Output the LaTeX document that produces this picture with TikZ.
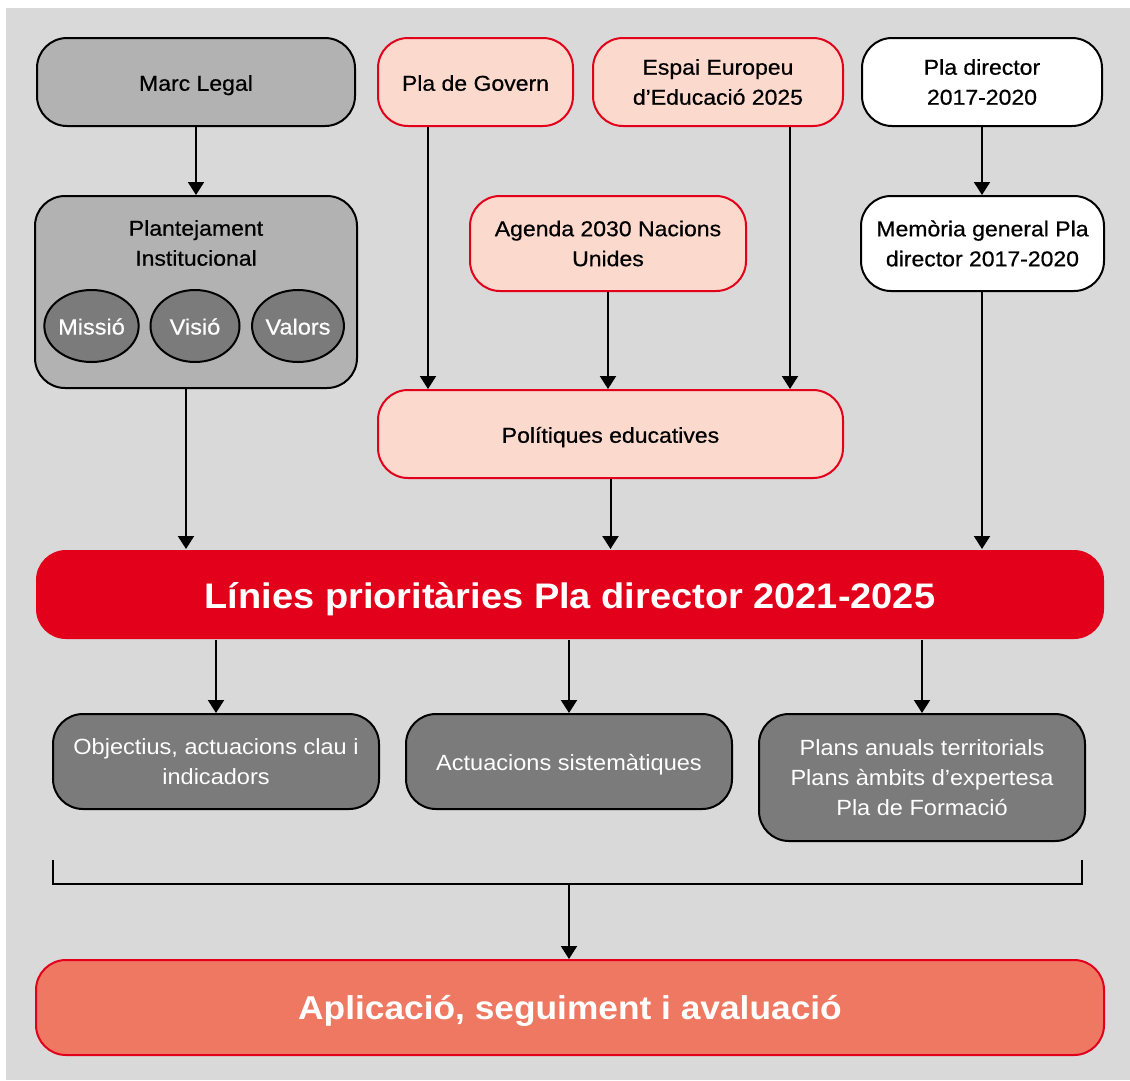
\documentclass[tikz,border=0pt]{standalone}
\usepackage{fontspec}
\setmainfont{Liberation Sans}[FakeStretch=1.07]
\newfontfamily\medfont{Liberation Sans}[FakeStretch=1.07,FakeBold=0.6]
\usetikzlibrary{arrows.meta,shapes.geometric}
\definecolor{bggray}{HTML}{D9D9D9}
\definecolor{midgray}{HTML}{B2B2B2}
\definecolor{darkgray}{HTML}{7B7B7B}
\definecolor{pinkfill}{HTML}{FBD9CC}
\definecolor{redc}{HTML}{E2001A}
\definecolor{salmon}{HTML}{EF7862}
\begin{document}
\begin{tikzpicture}[x=1pt,y=-1pt,
  base/.style={rectangle,rounded corners=30pt,line width=2pt,inner sep=0pt,align=center,
    font=\medfont\fontsize{21.5}{30}\selectfont},
  oneline/.style={text height=#1,text depth=0pt},
  graybox/.style={base,draw=black,fill=midgray},
  pinkbox/.style={base,draw=redc,fill=pinkfill},
  whitebox/.style={base,draw=black,fill=white},
  darkbox/.style={base,draw=black,fill=darkgray,text=white,font=\fontsize{22}{30}\selectfont},
  oval/.style={ellipse,draw=black,line width=2pt,fill=darkgray,text=white,inner sep=0pt,
    minimum width=89pt,minimum height=72pt,font=\medfont\fontsize{22}{24}\selectfont},
  arr/.style={line width=2pt,-{Triangle[width=16pt,length=13pt]}},
  lin/.style={line width=2pt}
]
\useasboundingbox (0,0) rectangle (1130,1080);
\fill[white] (0,0) rectangle (1130,1080);
\fill[bggray] (6,8) rectangle (1130,1080);

% top row
\node[graybox,oneline=17.5pt,minimum width=318pt,minimum height=88pt] (marc) at (196,82) {Marc Legal};
\node[pinkbox,oneline=17.5pt,minimum width=195pt,minimum height=88pt] (govern) at (475.5,82) {Pla de Govern};
\node[pinkbox,minimum width=250pt,minimum height=88pt] (espai) at (718,82) {Espai Europeu\\d’Educació 2025};
\node[whitebox,minimum width=240pt,minimum height=88pt] (pladir) at (982,82) {Pla director\\2017-2020};

% second row
\node[graybox,minimum width=322pt,minimum height=192pt] (plant) at (196,292) {};
\node[font=\medfont\fontsize{21.5}{30}\selectfont,align=center] (plantT) at (196,243) {Plantejament\\Institucional};
\node[oval,oneline=17pt] (missio) at (91.5,326) {Missió};
\node[oval,oneline=17pt] (visio) at (195,326) {Visió};
\node[oval,oneline=17pt] (valors) at (298,326) {Valors};
\node[pinkbox,minimum width=276pt,minimum height=95pt] (agenda) at (608,243.5) {Agenda 2030 Nacions\\Unides};
\node[whitebox,minimum width=243pt,minimum height=95pt] (memoria) at (982.5,243.5) {Memòria general Pla\\director 2017-2020};

% politiques
\node[pinkbox,oneline=17.5pt,minimum width=465pt,minimum height=88pt] (polit) at (610.5,434) {Polítiques educatives};

% linies
\node[base,oneline=28.4pt,fill=redc,draw=none,text=white,minimum width=1068pt,minimum height=89pt,
  font=\fontsize{35.5}{40}\selectfont\bfseries] (linies) at (570,594.5) {Línies prioritàries Pla director 2021-2025};

% lower row
\node[darkbox,minimum width=326pt,minimum height=95pt] (obj) at (216,761.5) {Objectius, actuacions clau i\\indicadors};
\node[darkbox,oneline=18pt,minimum width=326pt,minimum height=95pt] (act) at (569,761.5) {Actuacions sistemàtiques};
\node[darkbox,minimum width=326pt,minimum height=127pt] (plans) at (922,777.5) {Plans anuals territorials\\Plans àmbits d’expertesa\\Pla de Formació};

% aplicacio
\node[base,oneline=24.6pt,fill=salmon,draw=redc,text=white,minimum width=1068pt,minimum height=95pt,
  font=\fontsize{33}{38}\selectfont\bfseries] (aplic) at (570,1007.5) {Aplicació, seguiment i avaluació};

% arrows
\draw[arr] (marc.south) -- (plant.north);
\draw[arr] (plant.south -| 186,0) -- (linies.north -| 186,0);
\draw[arr] (govern.south -| 428,0) -- (polit.north -| 428,0);
\draw[arr] (espai.south -| 790,0) -- (polit.north -| 790,0);
\draw[arr] (agenda.south) -- (polit.north -| agenda.south);
\draw[arr] (polit.south) -- (linies.north -| polit.south);
\draw[arr] (pladir.south) -- (memoria.north -| pladir.south);
\draw[arr] (memoria.south -| pladir.south) -- (linies.north -| pladir.south);
\draw[arr] (linies.south -| obj.north) -- (obj.north);
\draw[arr] (linies.south -| act.north) -- (act.north);
\draw[arr] (linies.south -| plans.north) -- (plans.north);

% bracket
\coordinate (bl) at (53,860);
\coordinate (br) at (1082,860);
\coordinate (bm) at (569,884);
\draw[lin,line join=miter] (bl) -- (53,884) -- (1082,884) -- (br);
\draw[arr] (bm) -- (aplic.north -| bm);
\end{tikzpicture}
\end{document}
